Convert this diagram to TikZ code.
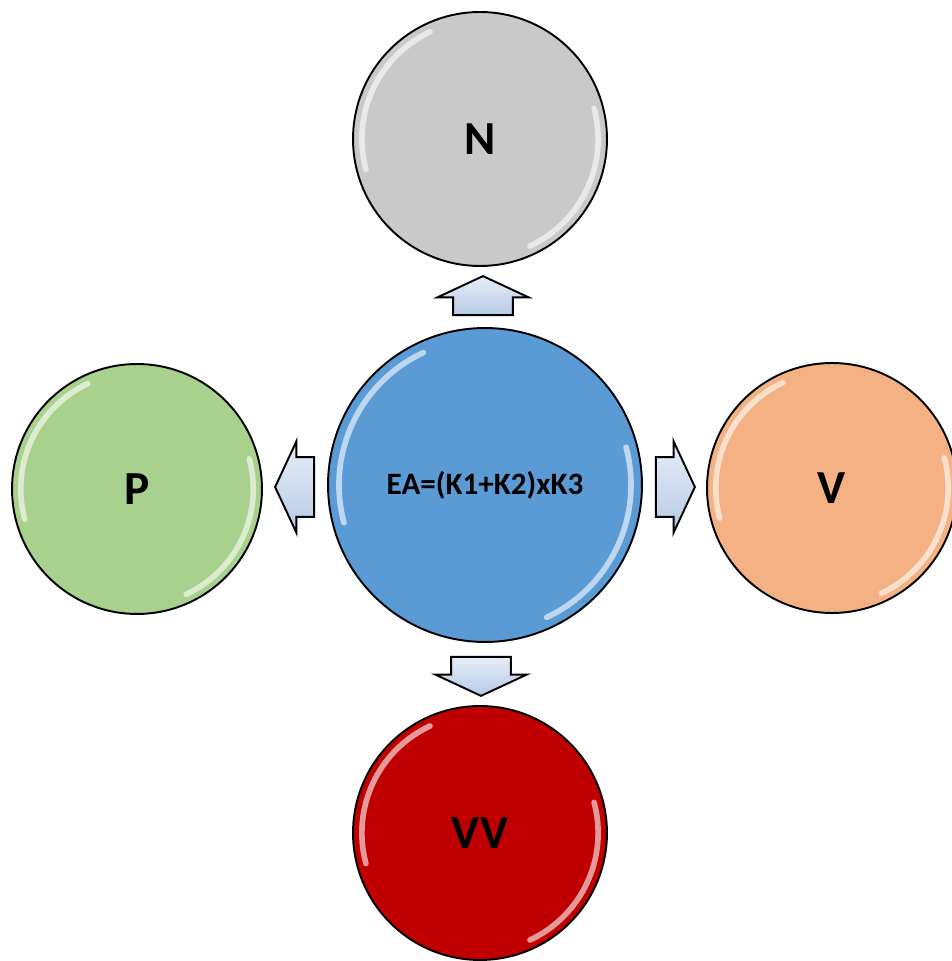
\documentclass[tikz,border=0pt]{standalone}
\usepackage{fontspec}
\setmainfont{Carlito}
\usetikzlibrary{shapes.arrows,calc}

\definecolor{nball}{HTML}{C9C9C9}
\definecolor{eaball}{HTML}{5B9BD5}
\definecolor{pball}{HTML}{A9D18E}
\definecolor{vball}{HTML}{F4B183}
\definecolor{vvball}{HTML}{C00000}
\definecolor{arrowtop}{HTML}{E6EDF7}
\definecolor{arrowbot}{HTML}{B7CAE6}

\begin{document}
\begin{tikzpicture}[x=0.02cm,y=0.02cm,
    ball/.style={circle,draw=black,line width=1.1pt,inner sep=0pt,
      font=\bfseries\fontsize{27}{30}\selectfont},
    gloss/.style={white,line width=3.2pt,opacity=0.6,line cap=round},
    blockarrow/.style={single arrow,draw=black,line width=1.1pt,anchor=tail,
      minimum height=0.78cm,single arrow head extend=0.31cm,
      single arrow tip angle=130,top color=arrowtop,bottom color=arrowbot},
    harrow/.style={blockarrow,inner xsep=0pt,inner ysep=0.58cm},
    varrow/.style={blockarrow,inner ysep=0pt,inner xsep=0.58cm}]
    \fill[white] (0,0) rectangle (951,961);
    \useasboundingbox (0,0) rectangle (951,961);
    % circles
    \node[ball,fill=nball,minimum size=5.08cm] (n) at (480,822) {N};
    \node[ball,fill=eaball,minimum size=6.28cm,
      font=\bfseries\fontsize{17.7}{21}\selectfont] (ea) at (485,476) {EA=(K1+K2)xK3};
    \node[ball,fill=pball,minimum size=5cm] (p) at (137,472) {P};
    \node[ball,fill=vball,minimum size=5cm] (v) at (832,473) {V};
    \node[ball,fill=vvball,minimum size=5.08cm] (vv) at (480,128) {VV};
    \foreach \b/\r in {n/127,ea/157,p/125,v/125,vv/127} {
      \draw[gloss] (\b.center) ++(115:{0.93*\r}) arc[start angle=115,end angle=195,radius={0.93*\r}];
      \draw[gloss] (\b.center) ++(-65:{0.93*\r}) arc[start angle=-65,end angle=15,radius={0.93*\r}];
    }
    % arrows
    \node[varrow,shape border rotate=90] (up) at ($(ea.north)+(-2,11)$) {};
    \node[harrow,shape border rotate=180] (left) at ($(ea.west)+(-12,-2)$) {};
    \node[harrow,shape border rotate=0] (right) at ($(ea.east)+(12,-2)$) {};
    \node[varrow,shape border rotate=270] (down) at ($(ea.south)+(-4,-13)$) {};
  \end{tikzpicture}
\end{document}
